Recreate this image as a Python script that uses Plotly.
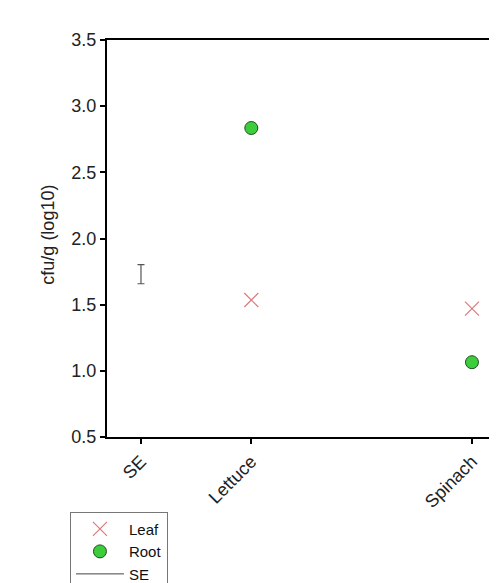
import plotly.graph_objects as go

categories = ["SE", "Lettuce", "Spinach"]
cat_pos = [0, 1, 3]
leaf_x = [1, 3]
leaf_y = [1.535, 1.47]
root_x = [1, 3]
root_y = [2.835, 1.065]
se_x = [0]
se_y = [1.73]
se_err = [0.072]
yticks = [0.5, 1.0, 1.5, 2.0, 2.5, 3.0, 3.5]

fig = go.Figure()
fig.add_trace(go.Scatter(
    x=leaf_x, y=leaf_y, mode="markers", name="Leaf",
    marker=dict(symbol="x-thin-open", size=14, color="#e07878",
                line=dict(color="#e07878", width=1.2)),
))
fig.add_trace(go.Scatter(
    x=root_x, y=root_y, mode="markers", name="Root",
    marker=dict(symbol="circle", size=13, color="#3ccc3c",
                line=dict(color="#1f4f1f", width=1)),
))
fig.add_trace(go.Scatter(
    x=se_x, y=se_y, mode="lines", name="SE",
    line=dict(color="#444444", width=1),
    error_y=dict(type="data", array=se_err, color="#555555", thickness=1.2, width=3.5),
))

fig.update_layout(
    width=497, height=583,
    margin=dict(l=99, r=8, t=32, b=154, autoexpand=False),
    paper_bgcolor="white", plot_bgcolor="white",
    font=dict(family="Liberation Sans, Arial, sans-serif", size=18, color="#222222"),
    showlegend=True,
    legend=dict(x=-0.095, y=-0.188, xanchor="left", yanchor="top",
                bgcolor="white", bordercolor="#777777", borderwidth=1,
                font=dict(size=15, color="#111111"), tracegroupgap=0,
                itemwidth=48),
    xaxis=dict(range=[-0.308, 3.227], tickmode="array", tickvals=cat_pos,
               ticktext=categories, tickangle=-45, showgrid=False, zeroline=False,
               showline=True, linecolor="black", linewidth=2, mirror=True,
               ticks="outside", ticklen=5, tickwidth=1.5, tickcolor="black",
               tickfont=dict(size=18, color="#222222")),
    yaxis=dict(range=[0.5, 3.5], tickmode="array", tickvals=yticks,
               ticktext=[f"{v:.1f}" for v in yticks], showgrid=False, zeroline=False,
               showline=True, linecolor="black", linewidth=2, mirror=False,
               ticks="outside", ticklen=5, tickwidth=1.5, tickcolor="black",
               tickfont=dict(size=18, color="#222222")),
    annotations=[dict(text="cfu/g (log10)", xref="paper", yref="paper",
                      x=-0.152, y=0.509, xanchor="center", yanchor="middle",
                      textangle=-90, showarrow=False,
                      font=dict(size=18, color="#222222"))],
)

fig.write_html("out.html")
